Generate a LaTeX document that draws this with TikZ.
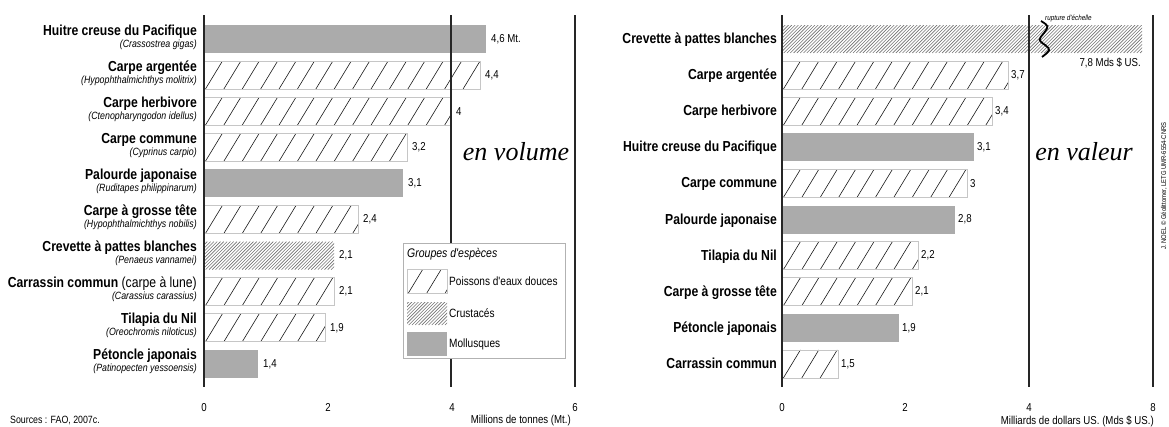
\documentclass[tikz,border=0pt]{standalone}
\usepackage{fontspec}
\setmainfont{Liberation Sans}
\newfontfamily\etroit[FakeStretch=0.84]{Liberation Sans}
\newfontfamily\romain{Liberation Serif}

\tikzset{
  barre/.style={anchor=west, inner sep=0pt, outer sep=0pt, minimum height=28},
  poisson/.style={barre, draw=gray!45, line width=0.8pt, fill=white,
    path picture={\foreach \k in {0,18.4,...,480}
      \draw[black!90, line width=0.6pt] ([xshift={\k*1pt-17pt}]path picture bounding box.south west) -- ++(17pt,28pt);}},
  crustace/.style={barre, fill=white,
    path picture={\foreach \k in {0,3.3,...,420}
      \draw[black!55, line width=0.6pt] ([xshift={\k*1pt-28pt}]path picture bounding box.south west) -- ++(28pt,28pt);}},
  mollusque/.style={barre, fill=black!33},
  nom/.style={anchor=base east, inner sep=0pt, font=\etroit\bfseries\fontsize{14.5}{16}\selectfont},
  latin/.style={anchor=base east, inner sep=0pt, font=\etroit\itshape\fontsize{10.5}{12}\selectfont},
  chiffre/.style={anchor=west, inner sep=0pt, font=\etroit\fontsize{11.5}{13}\selectfont},
  legende/.style={anchor=west, inner sep=0pt, font=\etroit\fontsize{12}{14}\selectfont},
  grille/.style={line width=1.9pt, black!85},
  titre/.style={anchor=base, inner sep=0pt, font=\romain\itshape\fontsize{26}{30}\selectfont}
}

\begin{document}
\begin{tikzpicture}[x=1pt, y=-1pt]
  \useasboundingbox (0,0) rectangle (1169,426);

  % en volume
  \foreach \i/\nom/\sci/\type/\long/\val in {
      0/Huitre creuse du Pacifique/(Crassostrea gigas)/mollusque/282/{4,6 Mt.},
      1/Carpe argentée/(Hypophthalmichthys molitrix)/poisson/276/{4,4},
      2/Carpe herbivore/(Ctenopharyngodon idellus)/poisson/247/4,
      3/Carpe commune/(Cyprinus carpio)/poisson/203/{3,2},
      4/Palourde japonaise/(Ruditapes philippinarum)/mollusque/199/{3,1},
      5/Carpe à grosse tête/(Hypophthalmichthys nobilis)/poisson/154/{2,4},
      6/Crevette à pattes blanches/(Penaeus vannamei)/crustace/130/{2,1},
      7/Carrassin commun \textmd{(carpe à lune)}/(Carassius carassius)/poisson/130/{2,1},
      8/Tilapia du Nil/(Oreochromis niloticus)/poisson/121/{1,9},
      9/Pétoncle japonais/(Patinopecten yessoensis)/mollusque/54/{1,4}}{
    \pgfmathsetmacro{\y}{39+36.1*\i}
    \node[\type, minimum width=\long] (vol\i) at (204,\y) {};
    \node[chiffre] (volc\i) at ([xshift=5pt]vol\i.east) {\val};
    \node[nom] (voln\i) at (197,\y-4) {\nom};
    \node[latin] (vols\i) at (197,\y+8) {\sci};
  }

  % en valeur
  \node[crustace, minimum width=360] (val0) at (782,39) {};
  \node[nom] (valn0) at (777,43.5) {Crevette à pattes blanches};
  \foreach \i/\nom/\type/\long/\val in {
      1/Carpe argentée/poisson/226/{3,7},
      2/Carpe herbivore/poisson/210/{3,4},
      3/Huitre creuse du Pacifique/mollusque/192/{3,1},
      4/Carpe commune/poisson/185/3,
      5/Palourde japonaise/mollusque/173/{2,8},
      6/Tilapia du Nil/poisson/136/{2,2},
      7/Carpe à grosse tête/poisson/130/{2,1},
      8/Pétoncle japonais/mollusque/117/{1,9},
      9/Carrassin commun/poisson/56/{1,5}}{
    \pgfmathsetmacro{\y}{39+36.1*\i}
    \node[\type, minimum width=\long] (val\i) at (782,\y) {};
    \node[chiffre] (valc\i) at ([xshift=3pt]val\i.east) {\val};
    \node[nom] (valn\i) at (777,\y+4.5) {\nom};
  }

  % rupture d'echelle
  \draw[line width=1.8pt] (1041,21) .. controls (1049,26) .. (1044,33)
    .. controls (1038,40) .. (1045,45) .. controls (1051,50) .. (1042,57);
  \node[anchor=base west, inner sep=0pt, font=\etroit\itshape\fontsize{7.5}{9}\selectfont] (rupt) at (1045,20) {rupture d'échelle};
  \node[chiffre, anchor=east] (valc0) at (1141,63) {7,8 Mds \$ US.};

  % graduations
  \foreach \x in {204,451,575,782,1029,1153}
    \draw[grille] (\x,15) -- (\x,387);
  \foreach \x/\t in {204/0,328/2,452/4,575/6,782/0,905/2,1029/4,1153/8}
    \node[chiffre, anchor=base] (g\x) at (\x,411) {\t};
  \node[chiffre, anchor=east] (unite1) at (571,421) {Millions de tonnes (Mt.)};
  \node[chiffre, anchor=east] (unite2) at (1154,421) {Milliards de dollars US. (Mds \$ US.)};
  \node[anchor=west, inner sep=0pt, font=\etroit\fontsize{10.5}{12}\selectfont] (src) at (10,420) {Sources : FAO, 2007c.};

  \node[titre] (vol) at (516,160) {en volume};
  \node[titre] (val) at (1084,160) {en valeur};
  \node[rotate=90, inner sep=0pt, font=\etroit\fontsize{7}{8}\selectfont] (credit) at (1164,186) {J. NOEL © Géolittomer, LETG UMR-6554-CNRS};

  % legende
  \draw[gray!60, line width=0.8pt, fill=white] (403,243) rectangle (565,358);
  \node[legende, font=\etroit\itshape\fontsize{12.5}{14}\selectfont] (leg) at (407,254) {Groupes d'espèces};
  \node[poisson, anchor=north west, minimum width=40, minimum height=24] (lp) at (407,269) {};
  \node[crustace, anchor=north west, minimum width=40, minimum height=23] (lc) at (407,302) {};
  \node[mollusque, anchor=north west, minimum width=40, minimum height=24] (lm) at (407,332) {};
  \node[legende] at ([xshift=2pt]lp.east) {Poissons d'eaux douces};
  \node[legende] at ([xshift=2pt]lc.east) {Crustacés};
  \node[legende] at ([xshift=2pt]lm.east) {Mollusques};
\end{tikzpicture}
\end{document}
